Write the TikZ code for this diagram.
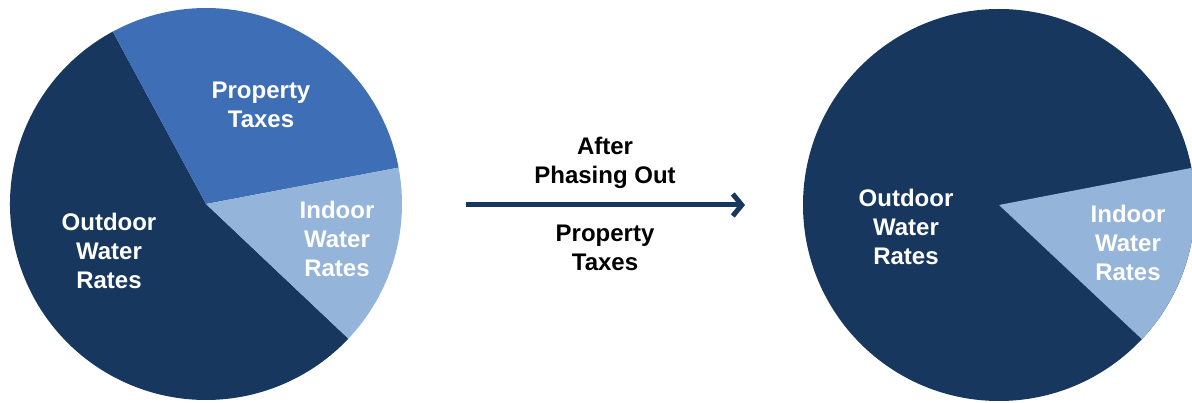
\documentclass[tikz,border=0pt]{standalone}
\usepackage{fontspec}
\setmainfont{Liberation Sans}
\usetikzlibrary{arrows.meta}
\definecolor{navy}{HTML}{17375E}
\definecolor{midblue}{HTML}{3E6EB6}
\definecolor{lightblue}{HTML}{95B4D9}
\begin{document}
\begin{tikzpicture}[x=1pt,y=1pt,
  lbl/.style={align=center,font=\fontsize{24}{29}\selectfont\bfseries,inner sep=0pt},
  wlbl/.style={lbl,text=white},
  klbl/.style={lbl,text=black}]
\useasboundingbox (0,0) rectangle (1192,402);
\clip (0,0) rectangle (1192,402);
% left pie
\coordinate (cl) at (206,198);
\fill[navy] (cl) -- ++(118.4:196) arc[start angle=118.4,end angle=316.6,radius=196] -- cycle;
\fill[midblue] (cl) -- ++(10.7:196) arc[start angle=10.7,end angle=118.4,radius=196] -- cycle;
\fill[lightblue] (cl) -- ++(-43.4:196) arc[start angle=-43.4,end angle=10.7,radius=196] -- cycle;
\node[wlbl] (lprop) at (261,297) {Property\\Taxes};
\node[wlbl] (lind) at (337,163) {Indoor\\Water\\Rates};
\node[wlbl] (lout) at (109,151) {Outdoor\\Water\\Rates};
% middle
\node[klbl] (after) at (605,239) {After\\Phasing Out};
\node[klbl] (ptax) at (605,154) {Property\\Taxes};
\coordinate (as) at (466,197);
\coordinate (ae) at (745,197);
\draw[navy,line width=5pt,-{Straight Barb[length=9pt,width=22pt]}] (as) -- (ae);
% right pie
\coordinate (cr) at (999,197);
\fill[navy] (cr) circle[radius=196];
\fill[lightblue] (cr) -- ++(-43.2:196) arc[start angle=-43.2,end angle=10.9,radius=196] -- cycle;
\node[wlbl] (rout) at (906,175) {Outdoor\\Water\\Rates};
\node[wlbl] (rind) at (1128,159) {Indoor\\Water\\Rates};
\end{tikzpicture}
\end{document}
